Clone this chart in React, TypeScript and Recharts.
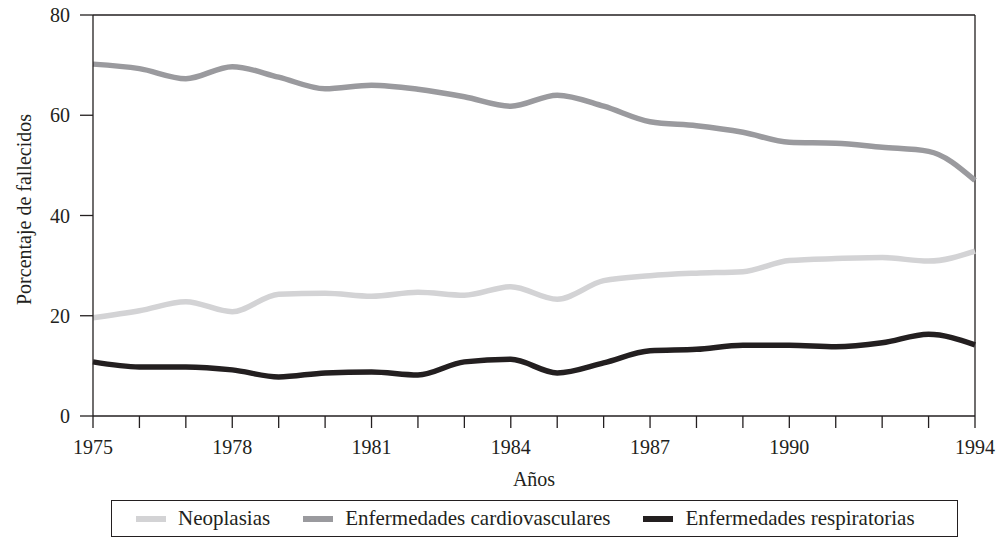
import { LineChart, Line, XAxis, YAxis, ReferenceLine } from 'recharts';

// Data
const years = [
  1975, 1976, 1977, 1978, 1979, 1980, 1981, 1982, 1983, 1984,
  1985, 1986, 1987, 1988, 1989, 1990, 1991, 1992, 1993, 1994,
];
const neoplasias = [
  19.6, 21.0, 22.8, 20.8, 24.3, 24.5, 23.9, 24.7, 24.1, 25.8,
  23.3, 27.0, 28.0, 28.5, 28.8, 31.0, 31.4, 31.6, 30.9, 32.9,
];
const cardiovasculares = [
  70.2, 69.3, 67.3, 69.7, 67.6, 65.3, 66.0, 65.2, 63.7, 61.8,
  64.0, 61.8, 58.7, 57.9, 56.6, 54.6, 54.4, 53.6, 52.8, 47.0,
];
const respiratorias = [
  10.8, 9.8, 9.8, 9.2, 7.8, 8.6, 8.8, 8.2, 10.8, 11.3,
  8.6, 10.6, 13.0, 13.3, 14.1, 14.1, 13.8, 14.6, 16.3, 14.2,
];
const yTicks = [0, 20, 40, 60, 80];
const xLabels = [1975, 1978, 1981, 1984, 1987, 1990, 1994];

const series = [
  { key: 'neo', name: 'Neoplasias', values: neoplasias, color: '#d3d3d5' },
  { key: 'cardio', name: 'Enfermedades cardiovasculares', values: cardiovasculares, color: '#9a9a9e' },
  { key: 'resp', name: 'Enfermedades respiratorias', values: respiratorias, color: '#231f20' },
];

const rows = years.map((year, i) => ({
  year,
  neo: neoplasias[i],
  cardio: cardiovasculares[i],
  resp: respiratorias[i],
}));

const ink = '#231f20';
const font = '"Liberation Serif", "Times New Roman", serif';
const fontSize = 20;
const tickStyle = { fill: ink, fontSize, fontFamily: font };

export default function App() {
  return (
    <div style={{ position: 'relative', width: 1000, height: 539, background: '#fff', fontFamily: font }}>
      <style>{`body { margin: 0; }`}</style>
      <LineChart
        width={1000}
        height={500}
        data={rows}
        margin={{ top: 15, right: 25, bottom: 10, left: 0 }}
      >
        <XAxis
          dataKey="year"
          type="number"
          domain={[1975, 1994]}
          ticks={years}
          interval={0}
          tickFormatter={(v: number) => (xLabels.includes(v) ? String(v) : '')}
          tick={tickStyle}
          tickSize={12}
          tickMargin={12}
          height={74}
          stroke={ink}
          strokeWidth={1.3}
          label={{ value: 'Años', position: 'insideBottom', offset: 4, fill: ink, fontSize, fontFamily: font }}
        />
        <YAxis
          type="number"
          domain={[0, 80]}
          ticks={yTicks}
          tick={tickStyle}
          tickSize={13}
          tickMargin={10}
          width={93}
          stroke={ink}
          strokeWidth={1.3}
          label={{
            content: ({ viewBox }: any) => {
              const cy = viewBox.y + viewBox.height / 2 - 6;
              return (
                <text
                  x={31}
                  y={cy}
                  transform={`rotate(-90, 31, ${cy})`}
                  textAnchor="middle"
                  fill={ink}
                  fontSize={fontSize}
                  fontFamily={font}
                >
                  Porcentaje de fallecidos
                </text>
              );
            },
          }}
        />
        {/* frame top + right */}
        <ReferenceLine y={80} stroke={ink} strokeWidth={1.3} />
        <ReferenceLine x={1994} stroke={ink} strokeWidth={1.3} />
        {series.map(s => (
          <Line
            key={s.key}
            dataKey={s.key}
            name={s.name}
            type="monotone"
            stroke={s.color}
            strokeWidth={5.5}
            dot={false}
            isAnimationActive={false}
          />
        ))}
      </LineChart>

      {/* Legend */}
      <div
        style={{
          position: 'absolute',
          left: 111,
          top: 500,
          width: 847,
          height: 37,
          boxSizing: 'border-box',
          border: `1px solid ${ink}`,
          display: 'flex',
          alignItems: 'center',
          paddingLeft: 24,
          gap: 33,
          fontSize: 21,
          color: ink,
        }}
      >
        {series.map(s => (
          <div key={s.key} style={{ display: 'flex', alignItems: 'center' }}>
            <span style={{ display: 'inline-block', width: 30, height: 6, background: s.color, marginRight: 12 }} />
            <span>{s.name}</span>
          </div>
        ))}
      </div>
    </div>
  );
}
